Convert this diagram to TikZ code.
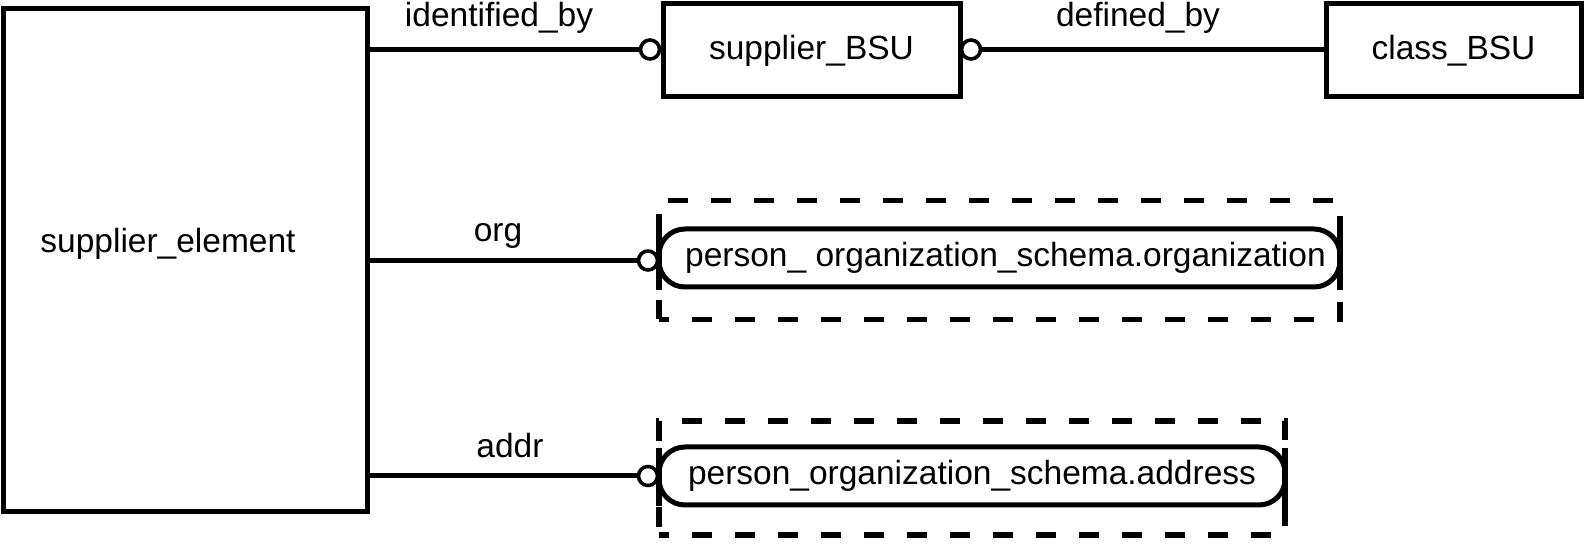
\documentclass[tikz,border=0pt]{standalone}
\usepackage{fontspec}
\setmainfont{Liberation Sans}
\begin{document}
\begin{tikzpicture}[x=0.5pt,y=-0.5pt,
  every node/.style={font=\fontsize{16.75}{20}\selectfont, inner sep=0pt, outer sep=0pt},
  box/.style={draw, line width=2.5pt, rectangle},
  conn/.style={line width=2.5pt},
  ring/.style={draw, circle, line width=1.8pt, minimum size=9.5pt, fill=white},
  lbl/.style={anchor=base},
  refbox/.style={draw, line width=2.5pt, rectangle, rounded corners=13pt},
  frame/.style={draw, line width=2.8pt, rectangle, dash pattern=on 10pt off 11.5pt, dash phase=5pt},
  bar/.style={line width=2.8pt}]
\useasboundingbox (0,0) rectangle (1584,544);

% entities
\node[box, minimum width=182pt, minimum height=251.5pt] (se) at (185,260.5) {};
\node[lbl] (setext) at (168,253) {supplier\_element};
\node[box, minimum width=148.5pt, minimum height=46.5pt] (sbsu) at (811.5,50.5) {supplier\_BSU};
\node[box, minimum width=127.5pt, minimum height=46.5pt] (cbsu) at (1453.5,50.5) {class\_BSU};

% referenced entities
\node[frame, minimum width=340.5pt, minimum height=59.5pt] (f1) at (999.5,260) {};
\node[refbox, minimum width=340.5pt, minimum height=29pt] (r1) at (999.5,258) {\hspace{6pt}person\_ organization\_schema.organization};
\draw[bar] (f1.west |- 0,230) coordinate (b1a) -- (f1.west |- 0,290) coordinate (b1b);
\draw[bar] (f1.east |- 0,230) coordinate (b1c) -- (f1.east |- 0,290) coordinate (b1d);

\node[frame, minimum width=313pt, minimum height=57pt] (f2) at (972,478) {};
\node[refbox, minimum width=313pt, minimum height=29pt] (r2) at (972,476) {person\_organization\_schema.address};
\draw[bar] (f2.west |- 0,448) coordinate (b2a) -- (f2.west |- 0,506) coordinate (b2b);
\draw[bar] (f2.east |- 0,448) coordinate (b2c) -- (f2.east |- 0,506) coordinate (b2d);

% rings
\node[ring] (c1) at (650,49.5) {};
\node[ring] (c2) at (971,49.5) {};
\node[ring] (c3) at (648,260.5) {};
\node[ring] (c4) at (648,476) {};

% connectors
\draw[conn] (se.east |- c1) -- (c1.west);
\draw[conn] (c2.east) -- (cbsu.west |- c2);
\draw[conn] (se.east |- c3) -- (c3.west);
\draw[conn] (se.east |- c4) -- (c4.west);

% labels
\node[lbl] (l1) at (499,27) {identified\_by};
\node[lbl] (l2) at (1138,27) {defined\_by};
\node[lbl] (l3) at (498,242) {org};
\node[lbl] (l4) at (510,458) {addr};
\end{tikzpicture}
\end{document}
